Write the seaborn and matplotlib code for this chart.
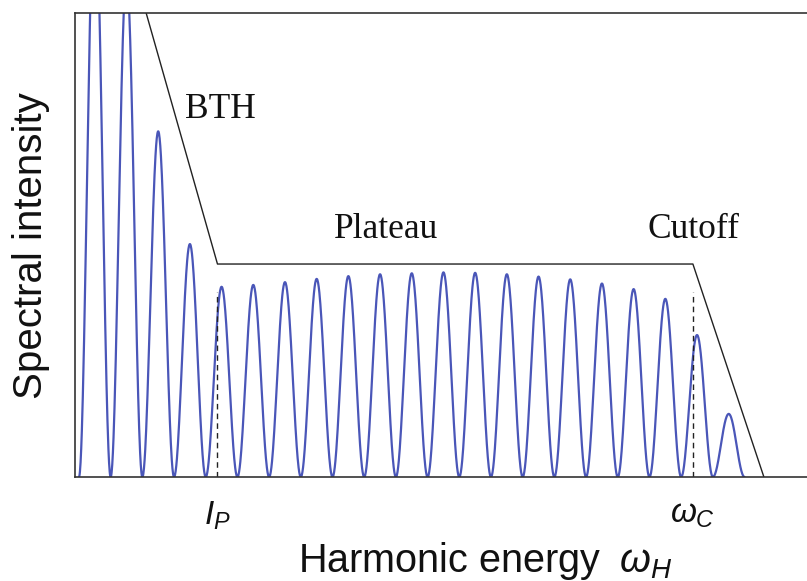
import numpy as np
import pandas as pd
import matplotlib
matplotlib.use("Agg")
import matplotlib.pyplot as plt
import seaborn as sns

# ---- data ----
harmonic_order = list(range(1, 22))
peak_intensity = [1.25, 1.08, 0.745, 0.502, 0.410, 0.414, 0.420, 0.427, 0.433,
                  0.437, 0.439, 0.441, 0.440, 0.437, 0.432, 0.426, 0.417, 0.405,
                  0.384, 0.306, 0.136]
envelope_x = [2.62, 4.87, 19.87, 22.11]
envelope_y = [1.0, 0.459, 0.459, 0.0]
ionization_x = 4.87
cutoff_x = 19.87
marker_top = 0.399
region_labels = ["BTH", "Plateau", "Cutoff"]
region_label_x = [4.95, 10.19, 19.9]
region_label_y = [0.774, 0.515, 0.515]
tick_labels = [r"$I_P$", r"$\omega_C$"]

# ---- build the spectrum curve from the peak amplitudes ----
rows = []
for n, a in zip(harmonic_order, peak_intensity):
    xs = np.linspace(n - 0.5, n + 0.5, 100)
    ys = a * np.cos(np.pi * (xs - n)) ** 2
    for xv, yv in zip(xs, ys):
        rows.append((xv, yv))
spec = pd.DataFrame(rows, columns=["energy", "intensity"])

sns.set_theme(style="white")
plt.rcParams["font.family"] = ["Liberation Sans", "DejaVu Sans"]
plt.rcParams["mathtext.fontset"] = "custom"
plt.rcParams["mathtext.it"] = "Liberation Sans:italic"
plt.rcParams["mathtext.rm"] = "Liberation Sans"

fig = plt.figure(figsize=(8.07, 5.81), dpi=100)
ax = fig.add_axes([75 / 807, 104 / 581, 732 / 807, 464 / 581])

sns.lineplot(data=spec, x="energy", y="intensity", ax=ax, color="#4a56b8",
             linewidth=1.6, sort=False, estimator=None)
sns.lineplot(x=envelope_x, y=envelope_y, ax=ax, color="#222222",
             linewidth=1.0, sort=False, estimator=None)
for xv in [ionization_x, cutoff_x]:
    ax.plot([xv, xv], [0, marker_top], color="#222222", linewidth=1.0,
            linestyle=(0, (4, 3)))

for lab, lx, ly in zip(region_labels, region_label_x, region_label_y):
    ax.text(lx, ly, lab, ha="center", va="baseline", fontsize=25.5,
            color="#111111", family=["Liberation Serif", "DejaVu Serif"])

ax.set_xlim(0.375, 23.47)
ax.set_ylim(0, 1.0)
ax.set_xticks([ionization_x, cutoff_x])
ax.set_xticklabels(tick_labels, fontsize=24, color="#111111")
ax.tick_params(axis="x", length=0, pad=16)
ax.set_yticks([])
ax.set_xlabel("")
ax.set_ylabel("")
for s in ["left", "bottom", "top"]:
    ax.spines[s].set_visible(True)
    ax.spines[s].set_color("#333333")
    ax.spines[s].set_linewidth(1.2)
ax.spines["right"].set_visible(False)

fig.text(298 / 807, 1 - 572 / 581, r"Harmonic energy $\;\omega_H$",
         ha="left", va="baseline", fontsize=28.5, color="#111111")
fig.text(31 / 807, 1 - 246 / 581, "Spectral intensity", rotation=90,
         ha="center", va="center", fontsize=29, color="#111111")

fig.savefig("out.png", dpi=100)
